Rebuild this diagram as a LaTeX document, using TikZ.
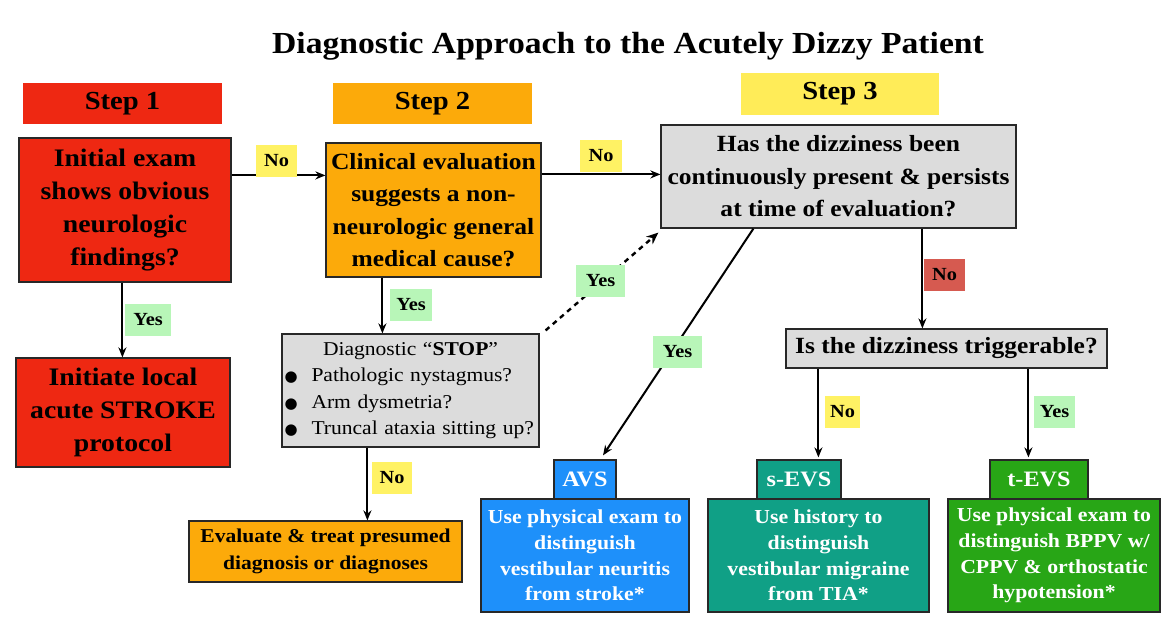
\documentclass[tikz,border=0pt]{standalone}
\usepackage{fontspec}
\setmainfont[FakeStretch=1.1]{Liberation Serif}
\newfontfamily\dejavu{DejaVu Sans}
\usetikzlibrary{arrows.meta,calc}

\definecolor{cred}{RGB}{238,40,18}
\definecolor{corange}{RGB}{252,170,10}
\definecolor{cyellow}{RGB}{255,236,88}
\definecolor{cgray}{RGB}{220,220,220}
\definecolor{cblue}{RGB}{30,144,250}
\definecolor{cteal}{RGB}{16,160,134}
\definecolor{cgreen}{RGB}{40,166,22}
\definecolor{lgreen}{RGB}{184,246,184}
\definecolor{lyellow}{RGB}{255,242,100}
\definecolor{lred}{RGB}{214,90,80}
\definecolor{bord}{RGB}{40,40,40}

\begin{document}
\begin{tikzpicture}[x=1pt,y=-1pt,
  box/.style={draw=bord, line width=1.2pt, inner sep=0pt, align=center},
  stepbox/.style={inner sep=0pt, font=\fontsize{26}{30}\selectfont\bfseries},
  bigq/.style={box, font=\fontsize{25.2}{33.3}\selectfont\bfseries},
  medq/.style={box, font=\fontsize{23.2}{32.5}\selectfont\bfseries},
  endbox/.style={box, text=white, font=\fontsize{19.8}{25.7}\selectfont\bfseries},
  endtag/.style={box, text=white, minimum height=39pt, font=\fontsize{22}{26}\selectfont\bfseries},
  tag/.style={inner sep=0pt, minimum height=32pt, font=\fontsize{18.5}{20}\selectfont\bfseries},
  arr/.style={line width=2pt, -{Stealth[length=10pt,width=8pt]}},
  dasharr/.style={line width=2.4pt, dash pattern=on 5pt off 4.5pt, -{Stealth[length=12pt,width=10pt]}},
]
\useasboundingbox (0,0) rectangle (1170,638);
\fill[white] (0,0) rectangle (1170,638);

% title
\node[anchor=base, inner sep=0pt, font=\fontsize{30.6}{34}\selectfont\bfseries] (title) at (628,53)
  {Diagnostic Approach to the Acutely Dizzy Patient};

% step headers
\node[stepbox, fill=cred, minimum width=199pt, minimum height=41pt] (s1) at (122.5,103.5) {Step 1};
\node[stepbox, fill=corange, minimum width=199pt, minimum height=41pt] (s2) at (432.5,103.5) {Step 2};
\node[stepbox, fill=cyellow, minimum width=198pt, minimum height=42pt] (s3) at (840,94) {Step 3};

% main boxes
\node[bigq, fill=cred, minimum width=212pt, minimum height=144pt] (q1) at (125,210)
  {Initial exam\\shows obvious\\neurologic\\findings?};
\node[medq, fill=corange, minimum width=215pt, minimum height=134pt] (q2) at (433.5,210)
  {Clinical evaluation\\suggests a non-\\neurologic general\\medical cause?};
\node[medq, fill=cgray, minimum width=355pt, minimum height=103pt] (q3) at (838.5,176.5)
  {Has the dizziness been\\continuously present \& persists\\at time of evaluation?};
\node[bigq, fill=cred, minimum width=214pt, minimum height=109pt] (stroke) at (123,412.5)
  {Initiate local\\acute STROKE\\protocol};
\node[box, fill=cgray, minimum width=257pt, minimum height=113pt, text width=252pt, align=left,
      font=\fontsize{19.6}{26.5}\selectfont] (stop) at (410.5,390.5)
  {\makebox[252pt][c]{Diagnostic “\textbf{STOP}”}\\
   \makebox[27pt][l]{\dejavu\fontsize{15}{15}\selectfont ●}Pathologic nystagmus?\\
   \makebox[27pt][l]{\dejavu\fontsize{15}{15}\selectfont ●}Arm dysmetria?\\
   \makebox[27pt][l]{\dejavu\fontsize{15}{15}\selectfont ●}Truncal ataxia sitting up?};
\node[box, fill=corange, minimum width=273pt, minimum height=61pt,
      font=\fontsize{19.6}{26.7}\selectfont\bfseries] (eval) at (325.5,551.5)
  {Evaluate \& treat presumed\\diagnosis or diagnoses};
\node[medq, fill=cgray, minimum width=321pt, minimum height=39pt] (trig) at (946.5,348.5)
  {Is the dizziness triggerable?};

% end boxes
\node[endtag, fill=cblue, minimum width=62pt] (avsl) at (585,479.5) {AVS};
\node[endbox, fill=cblue, minimum width=208pt, minimum height=113pt] (avs) at (585,555.5)
  {Use physical exam to\\distinguish\\vestibular neuritis\\from stroke*};
\node[endtag, fill=cteal, minimum width=84pt] (sevsl) at (799,479.5) {s-EVS};
\node[endbox, fill=cteal, minimum width=221pt, minimum height=113pt] (sevs) at (818.5,555.5)
  {Use history to\\distinguish\\vestibular migraine\\from TIA*};
\node[endtag, fill=cgreen, minimum width=98pt] (tevsl) at (1039,479.5) {t-EVS};
\node[endbox, fill=cgreen, minimum width=212pt, minimum height=113pt] (tevs) at (1054,555.5)
  {Use physical exam to\\distinguish BPPV w/\\CPPV \& orthostatic\\hypotension*};

% connectors
\draw[arr] ($(q1.north east)+(0,38)$) -- ($(q2.north west)+(0,33)$);
\draw[arr] ($(q2.north east)+(0,32)$) -- ($(q3.north west)+(0,50)$);
\draw[arr] ($(q1.south west)+(104,0)$) -- ($(stroke.north west)+(107,0)$);
\draw[arr] ($(q2.south west)+(57,0)$) -- ($(stop.north west)+(101,0)$);
\draw[arr] ($(stop.south west)+(86,0)$) -- ($(eval.north west)+(179,0)$);
\draw[dasharr] ($(stop.north east)+(6,-3)$) -- ($(q3.south west)+(-2,4)$);
\draw[arr] ($(q3.south west)+(93,0)$) -- ($(avsl.north)+(18,-4)$);
\draw[arr] ($(q3.south west)+(262,0)$) -- ($(trig.north west)+(137,0)$);
\draw[arr] ($(trig.south west)+(33,0)$) -- ($(sevsl.north west)+(62,-2)$);
\draw[arr] ($(trig.south west)+(243,0)$) -- ($(tevsl.north west)+(39,-2)$);

% tags
\node[tag, fill=lyellow, minimum width=41pt] (no1) at (276.5,161) {No};
\node[tag, fill=lyellow, minimum width=42pt] (no2) at (601,156) {No};
\node[tag, fill=lgreen, minimum width=46pt] (yes1) at (148,320) {Yes};
\node[tag, fill=lgreen, minimum width=42pt] (yes2) at (411,305) {Yes};
\node[tag, fill=lgreen, minimum width=49pt] (yes3) at (600.5,281) {Yes};
\node[tag, fill=lgreen, minimum width=49pt] (yes4) at (677.5,351.5) {Yes};
\node[tag, fill=lred, minimum width=41pt] (no3) at (944.5,274.5) {No};
\node[tag, fill=lyellow, minimum width=40pt] (no4) at (392,477.5) {No};
\node[tag, fill=lyellow, minimum width=35pt] (no5) at (842.5,412) {No};
\node[tag, fill=lgreen, minimum width=41pt] (yes5) at (1054.5,412) {Yes};
\end{tikzpicture}
\end{document}
